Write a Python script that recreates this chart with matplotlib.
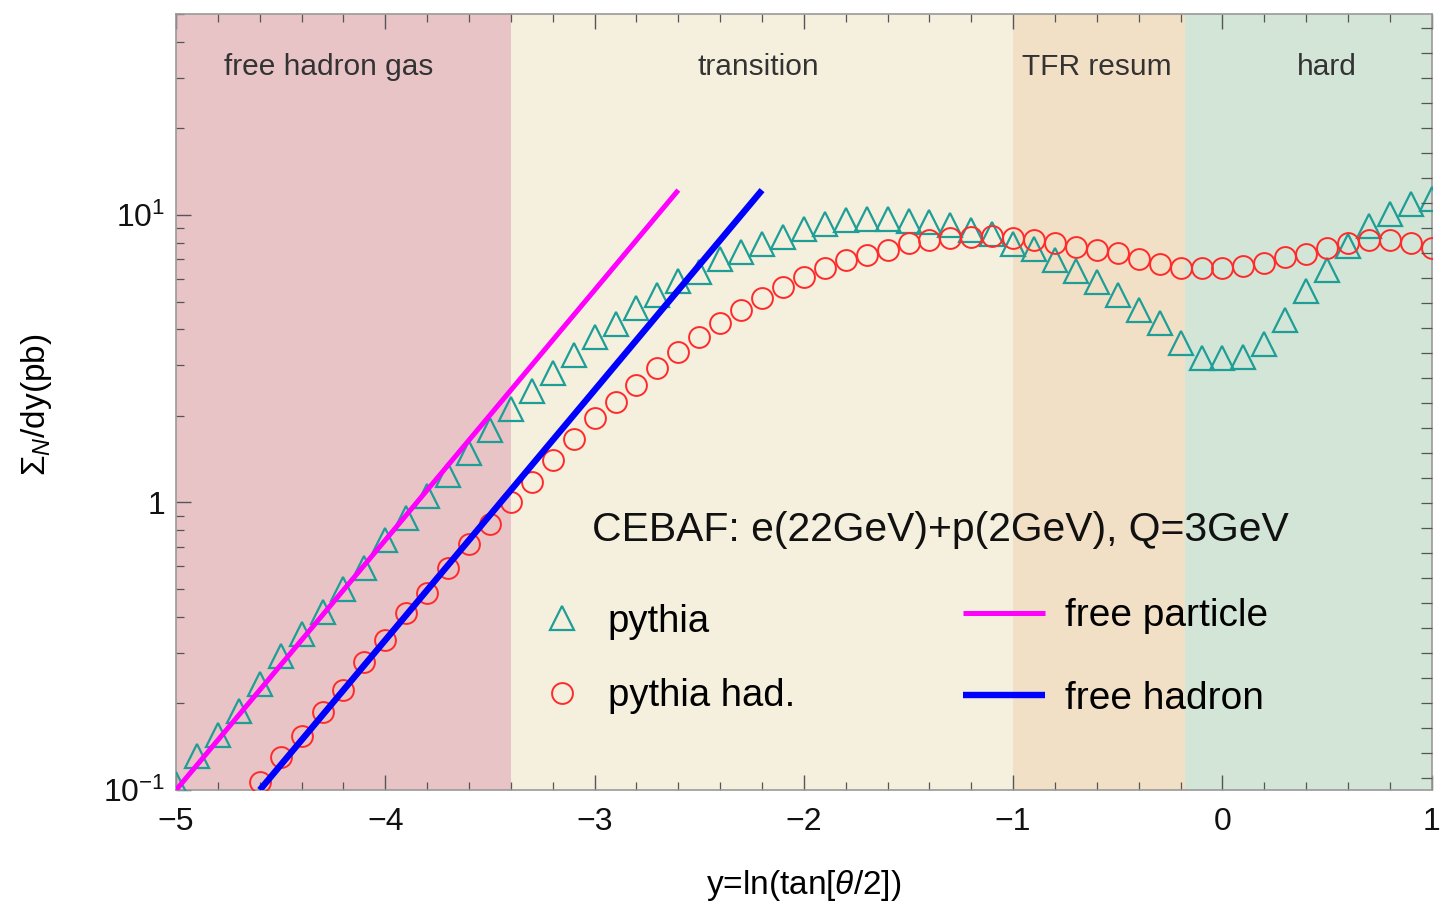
import numpy as np
import matplotlib
matplotlib.use('Agg')
import matplotlib.pyplot as plt
from matplotlib.ticker import FixedLocator, FixedFormatter, NullFormatter, LogLocator
from matplotlib.lines import Line2D

plt.rcParams['font.family'] = ['Liberation Sans', 'DejaVu Sans']
plt.rcParams['mathtext.fontset'] = 'custom'
plt.rcParams['mathtext.rm'] = 'Liberation Sans'
plt.rcParams['mathtext.it'] = 'Liberation Sans:italic'

# rapidity grid of the pythia samples
y_pythia = np.round(np.arange(-5.0, 1.001, 0.1), 1)
pythia = [0.105, 0.131, 0.155, 0.188, 0.233, 0.292, 0.348, 0.415, 0.499, 0.594,
          0.738, 0.880, 1.05, 1.25, 1.49, 1.78, 2.12, 2.45, 2.83, 3.26,
          3.77, 4.18, 4.75, 5.27, 5.90, 6.34, 7.03, 7.44, 7.93, 8.39,
          8.94, 9.31, 9.61, 9.68, 9.68, 9.53, 9.46, 9.23, 8.87, 8.59,
          7.93, 7.62, 6.98, 6.39, 5.85, 5.27, 4.68, 4.22, 3.60, 3.19,
          3.19, 3.21, 3.57, 4.32, 5.45, 6.44, 7.80, 9.16, 10.08, 10.9,
          11.4]

y_had = np.round(np.arange(-4.6, 1.001, 0.1), 1)
pythia_had = [0.107, 0.130, 0.154, 0.187, 0.222, 0.278, 0.332, 0.412, 0.483, 0.590,
              0.715, 0.839, 1.00, 1.18, 1.41, 1.66, 1.97, 2.24, 2.57, 2.94,
              3.34, 3.77, 4.22, 4.68, 5.15, 5.62, 6.09, 6.55, 6.98, 7.26,
              7.56, 7.99, 8.19, 8.32, 8.39, 8.46, 8.32, 8.19, 7.99, 7.74,
              7.56, 7.38, 7.03, 6.76, 6.55, 6.55, 6.55, 6.65, 6.81, 7.14,
              7.33, 7.68, 7.99, 8.19, 8.19, 7.99, 7.68]

# straight (exponential) curves
free_particle_y = [-5.0, -2.6]
free_particle_v = [0.1, 12.2]
free_hadron_y = [-4.6, -2.2]
free_hadron_v = [0.1, 12.2]

# kinematic regions
region_names = ['free hadron gas', 'transition', 'TFR resum', 'hard']
region_edges = [-5.0, -3.4, -1.0, -0.18, 1.0]
region_colors = ['#E8C4C6', '#F5EFDE', '#F2E0C6', '#D2E5D6']
region_label_x = [-4.27, -2.22, -0.60, 0.50]

teal = '#1E9E96'
red = '#FF2A2A'

fig = plt.figure(figsize=(14.55, 9.13), dpi=100)
ax = fig.add_axes([0.121, 0.1347, 0.863, 0.85])

for i, name in enumerate(region_names):
    ax.axvspan(region_edges[i], region_edges[i + 1], color=region_colors[i], lw=0, zorder=0)
    ax.text(region_label_x[i], 0.932, name, transform=ax.get_xaxis_transform(),
            ha='center', va='center', fontsize=21.5, color='#333333')

ax.plot(y_pythia, pythia, ls='none', marker='^', ms=17, mfc='none', mec=teal, mew=1.6,
        label='pythia', zorder=3)
ax.plot(y_had, pythia_had, ls='none', marker='o', ms=15, mfc='none', mec=red, mew=1.4,
        label='pythia had.', zorder=3)
l1, = ax.plot(free_particle_y, free_particle_v, color='#FF00FF', lw=3.6, zorder=4,
              solid_capstyle='butt', label='free particle')
l2, = ax.plot(free_hadron_y, free_hadron_v, color='#0000FF', lw=4.6, zorder=4,
              solid_capstyle='butt', label='free hadron')

ax.set_yscale('log')
ax.set_xlim(-5, 1)
ax.set_ylim(0.1, 50)

ax.set_xticks([-5, -4, -3, -2, -1, 0, 1])
ax.set_xticklabels(['\u22125', '\u22124', '\u22123', '\u22122', '\u22121', '0', '1'])
ax.xaxis.set_minor_locator(FixedLocator(np.round(np.arange(-5, 1.001, 0.2), 1)))
ax.yaxis.set_major_locator(FixedLocator([0.1, 1, 10]))
ax.yaxis.set_major_formatter(FixedFormatter(['$10^{-1}$', '1', '$10^{1}$']))
ax.yaxis.set_minor_locator(LogLocator(base=10, subs=np.arange(2, 10)))
ax.yaxis.set_minor_formatter(NullFormatter())

ax.tick_params(which='both', direction='in', top=True, right=False, colors='#555555',
               labelcolor='#111111')
ax.tick_params(which='major', length=11, width=1.0, labelsize=23)
ax.tick_params(axis='x', which='major', pad=12)
ax.tick_params(axis='y', which='major', pad=8)
ax.tick_params(which='minor', length=6, width=0.9)
for s in ax.spines.values():
    s.set_color('#999999')
    s.set_linewidth(1.2)

# right frame: evenly spaced ticks, no labels
axr = ax.twinx()
axr.set_ylim(0, 31.04)
axr.set_yticks(np.arange(0.48, 31.0, 1.0))
axr.tick_params(axis='y', direction='in', length=8, width=0.9, colors='#555555',
                labelright=False)
for s in axr.spines.values():
    s.set_visible(False)

ax.set_xlabel(r'y=ln(tan[$\theta$/2])', fontsize=24)
ax.xaxis.set_label_coords(0.5, -0.1)
ax.set_ylabel(r'$\Sigma_N$/dy(pb)', fontsize=24)
ax.yaxis.set_label_coords(-0.097, 0.496)

ax.text(0.331, 0.335, 'CEBAF: e(22GeV)+p(2GeV), Q=3GeV', transform=ax.transAxes,
        ha='left', va='center', fontsize=29.4, color='#111111')

h_m = [Line2D([], [], ls='none', marker='^', ms=17, mfc='none', mec=teal, mew=1.6),
       Line2D([], [], ls='none', marker='o', ms=15, mfc='none', mec=red, mew=1.4)]
leg1 = ax.legend(h_m, ['pythia', 'pythia had.'], loc='upper left',
                 bbox_to_anchor=(0.292, 0.240), frameon=False, fontsize=27.5,
                 handlelength=1.0, handletextpad=0.7, labelspacing=1.0,
                 borderpad=0, borderaxespad=0)
ax.add_artist(leg1)
ax.legend([l1, l2], ['free particle', 'free hadron'], loc='upper left',
          bbox_to_anchor=(0.627, 0.247), frameon=False, fontsize=28,
          handlelength=2.1, handletextpad=0.52, labelspacing=1.2,
          borderpad=0, borderaxespad=0)

fig.savefig('out.png', dpi=100)
